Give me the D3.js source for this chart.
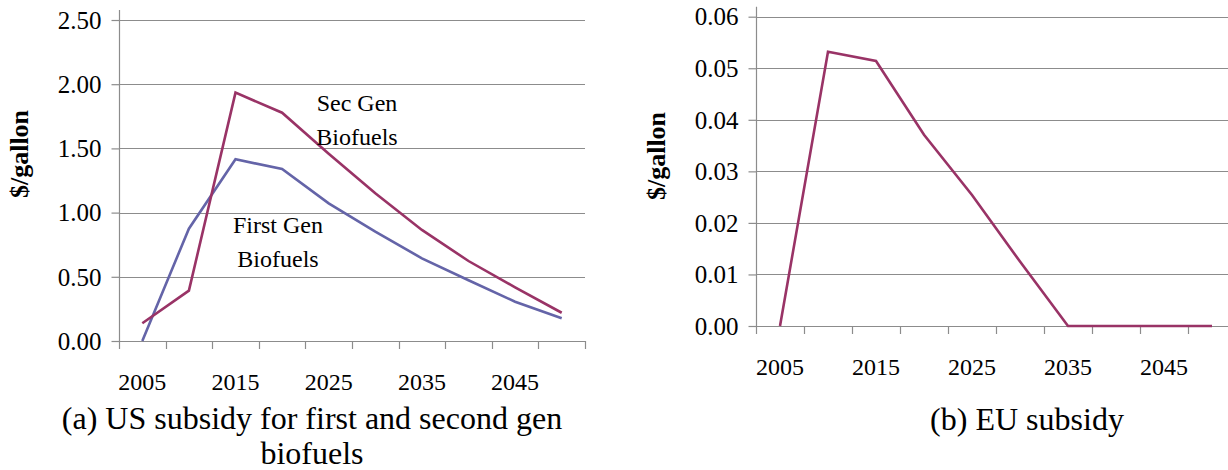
<!DOCTYPE html>
<html>
<head>
<meta charset="utf-8">
<script src="https://cdn.jsdelivr.net/npm/d3@7"></script>
<style>
  html, body { margin: 0; padding: 0; background: #fff; }
  svg { display: block; }
  text { font-family: "Liberation Serif", "Times New Roman", serif; fill: #000; }
</style>
</head>
<body>
<svg id="chart" width="1228" height="470"></svg>
<script>
// ---- Data ----
const years = [2005, 2010, 2015, 2020, 2025, 2030, 2035, 2040, 2045, 2050];
const yearLabels = [2005, 2015, 2025, 2035, 2045];
const usFirstGen = [0.00, 0.875, 1.415, 1.34, 1.072, 0.851, 0.644, 0.473, 0.306, 0.177];
const usSecGen = [0.138, 0.392, 1.934, 1.778, 1.459, 1.150, 0.865, 0.623, 0.418, 0.220];
const euSubsidy = [0.0, 0.0532, 0.0514, 0.0371, 0.0254, 0.0125, 0.0, 0.0, 0.0, 0.0];
const usTicks = [0, 0.5, 1.0, 1.5, 2.0, 2.5];
const euTicks = [0, 0.01, 0.02, 0.03, 0.04, 0.05, 0.06];

const svg = d3.select("#chart");
const gridColor = "#8c8c8c";
const purple = "#993366";
const blue = "#6464a8";

function drawPanel(cfg) {
  const g = svg.append("g");
  const x = d3.scaleBand().domain(years).range([cfg.x0, cfg.x1]).padding(0);
  const y = d3.scaleLinear().domain([0, cfg.ymax]).range([cfg.y0, cfg.y1]);

  // gridlines
  g.selectAll("line.grid").data(cfg.ticks).enter().append("line")
    .attr("x1", cfg.x0).attr("x2", Math.min(cfg.x1, 1228))
    .attr("y1", d => Math.round(y(d)) + 0.5).attr("y2", d => Math.round(y(d)) + 0.5)
    .attr("stroke", gridColor).attr("stroke-width", 1.2);

  // y axis
  const yAxis = d3.axisLeft(y).tickValues(cfg.ticks).tickFormat(d3.format(".2f")).tickSize(8).tickPadding(10);
  const ya = g.append("g").attr("transform", `translate(${Math.round(cfg.x0) + 0.5},0)`).call(yAxis);
  ya.attr("font-family", null).attr("font-size", null);
  ya.select(".domain").attr("stroke", gridColor).attr("stroke-width", 1.2)
    .attr("d", `M0,${cfg.y1 - 10}V${cfg.y0}`);
  ya.selectAll(".tick line").attr("stroke", gridColor).attr("stroke-width", 1.2);
  ya.selectAll(".tick text").style("font-size", "25px").attr("dy", "0.33em")
    .style("font-family", "Liberation Serif");

  // x axis (category boundaries)
  const bounds = years.map(d => x(d)).concat([x(years[years.length - 1]) + x.bandwidth()]);
  g.selectAll("line.xt").data(bounds).enter().append("line")
    .attr("x1", d => Math.round(d) + 0.5).attr("x2", d => Math.round(d) + 0.5)
    .attr("y1", cfg.y0).attr("y2", cfg.y0 + 8)
    .attr("stroke", gridColor).attr("stroke-width", 1.2);
  g.append("line").attr("x1", cfg.x0).attr("x2", Math.min(cfg.x1, 1228))
    .attr("y1", Math.round(cfg.y0) + 0.5).attr("y2", Math.round(cfg.y0) + 0.5)
    .attr("stroke", gridColor).attr("stroke-width", 1.2);
  g.selectAll("text.xl").data(yearLabels).enter().append("text")
    .attr("x", d => x(d) + x.bandwidth() / 2)
    .attr("y", cfg.y0 + 49)
    .attr("text-anchor", "middle")
    .style("font-size", "24px")
    .text(d => d);

  // y title
  g.append("text")
    .attr("transform", `translate(${cfg.titleX},${cfg.titleY}) rotate(-90)`)
    .attr("text-anchor", "middle")
    .style("font-size", "26px").style("font-weight", "bold")
    .text("$/gallon");

  // series
  const line = d3.line().x((d, i) => x(years[i]) + x.bandwidth() / 2).y(d => y(d));
  cfg.series.forEach(s => {
    g.append("path").datum(s.values).attr("d", line)
      .attr("fill", "none").attr("stroke", s.color).attr("stroke-width", 2.6)
      .attr("stroke-linejoin", "miter");
  });

  // caption
  const cap = g.append("text").attr("text-anchor", "middle").style("font-size", "32px");
  cfg.caption.forEach((t, i) => {
    cap.append("tspan").attr("x", cfg.capX).attr("y", cfg.capY + i * 35).text(t);
  });
  return { x, y, g };
}

const left = drawPanel({
  x0: 119, x1: 585, y0: 341, y1: 20, ymax: 2.5, ticks: usTicks,
  titleX: 28, titleY: 154,
  series: [{ values: usFirstGen, color: blue }, { values: usSecGen, color: purple }],
  caption: ["(a) US subsidy for first and second gen", "biofuels"],
  capX: 312, capY: 429
});

// annotations on left panel
const ann = left.g.append("g").style("font-size", "24px");
ann.append("text").attr("x", 357).attr("y", 111).attr("text-anchor", "middle").text("Sec Gen");
ann.append("text").attr("x", 357).attr("y", 145).attr("text-anchor", "middle").text("Biofuels");
ann.append("text").attr("x", 278).attr("y", 233).attr("text-anchor", "middle").text("First Gen");
ann.append("text").attr("x", 278).attr("y", 267).attr("text-anchor", "middle").text("Biofuels");

drawPanel({
  x0: 756, x1: 1236, y0: 326, y1: 16.7, ymax: 0.06, ticks: euTicks,
  titleX: 665, titleY: 156,
  series: [{ values: euSubsidy, color: purple }],
  caption: ["(b) EU subsidy"],
  capX: 1027, capY: 430
});
</script>
</body>
</html>
